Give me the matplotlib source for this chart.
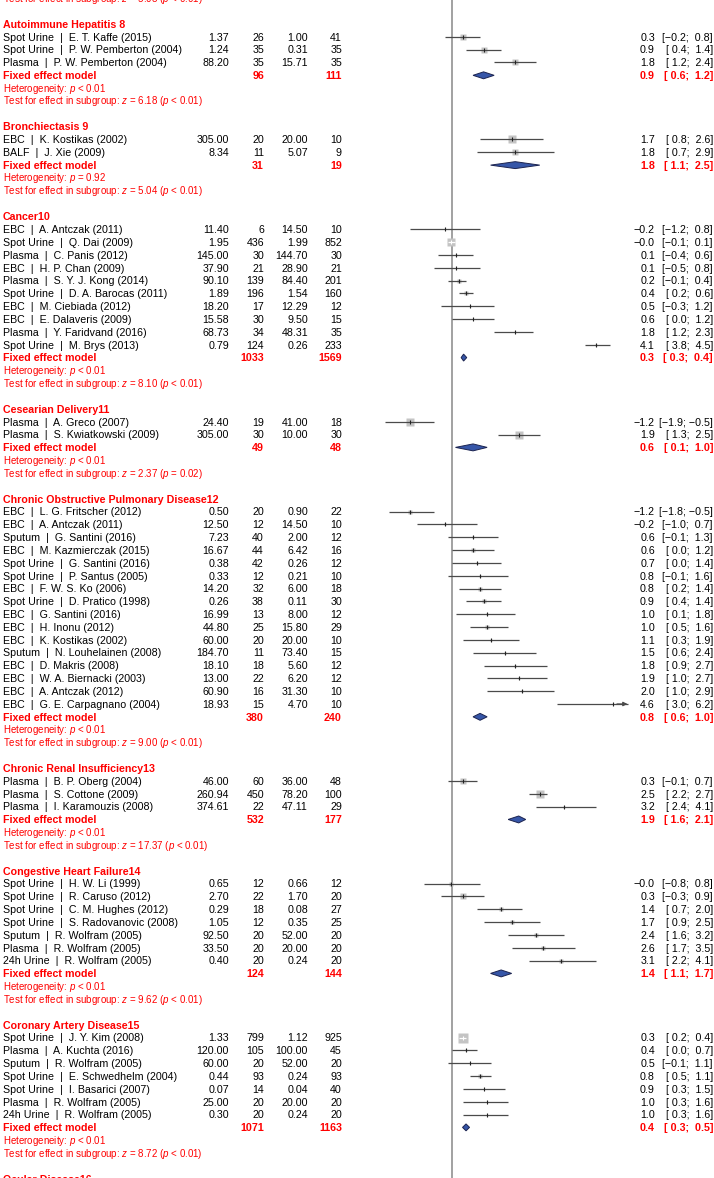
import numpy as np
import matplotlib
matplotlib.use("Agg")
import matplotlib.pyplot as plt
from matplotlib.transforms import blended_transform_factory
from matplotlib.patches import Polygon

plt.rcParams['font.family'] = ['Liberation Sans', 'DejaVu Sans']
plt.rcParams['mathtext.fontset'] = 'custom'
plt.rcParams['mathtext.it'] = 'Liberation Sans:italic'
plt.rcParams['mathtext.rm'] = 'Liberation Sans'

# ---------------- data ----------------
group_names = ["Autoimmune Hepatitis 8", "Bronchiectasis 9", "Cancer10",
               "Cesearian Delivery11", "Chronic Obstructive Pulmonary Disease12",
               "Chronic Renal Insufficiency13", "Congestive Heart Failure14",
               "Coronary Artery Disease15"]
next_group_name = "Ocular Disease16"
prev_group_z = "5.08"
prev_group_zp = "< 0.01"

study_group = [0]*3 + [1]*2 + [2]*10 + [3]*2 + [4]*16 + [5]*3 + [6]*7 + [7]*7
study_labels = [
    "Spot Urine  |  E. T. Kaffe (2015)", "Spot Urine  |  P. W. Pemberton (2004)", "Plasma  |  P. W. Pemberton (2004)",
    "EBC  |  K. Kostikas (2002)", "BALF  |  J. Xie (2009)",
    "EBC  |  A. Antczak (2011)", "Spot Urine  |  Q. Dai (2009)", "Plasma  |  C. Panis (2012)",
    "EBC  |  H. P. Chan (2009)", "Plasma  |  S. Y. J. Kong (2014)", "Spot Urine  |  D. A. Barocas (2011)",
    "EBC  |  M. Ciebiada (2012)", "EBC  |  E. Dalaveris (2009)", "Plasma  |  Y. Faridvand (2016)",
    "Spot Urine  |  M. Brys (2013)",
    "Plasma  |  A. Greco (2007)", "Plasma  |  S. Kwiatkowski (2009)",
    "EBC  |  L. G. Fritscher (2012)", "EBC  |  A. Antczak (2011)", "Sputum  |  G. Santini (2016)",
    "EBC  |  M. Kazmierczak (2015)", "Spot Urine  |  G. Santini (2016)", "Spot Urine  |  P. Santus (2005)",
    "EBC  |  F. W. S. Ko (2006)", "Spot Urine  |  D. Pratico (1998)", "EBC  |  G. Santini (2016)",
    "EBC  |  H. Inonu (2012)", "EBC  |  K. Kostikas (2002)", "Sputum  |  N. Louhelainen (2008)",
    "EBC  |  D. Makris (2008)", "EBC  |  W. A. Biernacki (2003)", "EBC  |  A. Antczak (2012)",
    "EBC  |  G. E. Carpagnano (2004)",
    "Plasma  |  B. P. Oberg (2004)", "Plasma  |  S. Cottone (2009)", "Plasma  |  I. Karamouzis (2008)",
    "Spot Urine  |  H. W. Li (1999)", "Spot Urine  |  R. Caruso (2012)", "Spot Urine  |  C. M. Hughes (2012)",
    "Spot Urine  |  S. Radovanovic (2008)", "Sputum  |  R. Wolfram (2005)", "Plasma  |  R. Wolfram (2005)",
    "24h Urine  |  R. Wolfram (2005)",
    "Spot Urine  |  J. Y. Kim (2008)", "Plasma  |  A. Kuchta (2016)", "Sputum  |  R. Wolfram (2005)",
    "Spot Urine  |  E. Schwedhelm (2004)", "Spot Urine  |  I. Basarici (2007)", "Plasma  |  R. Wolfram (2005)",
    "24h Urine  |  R. Wolfram (2005)",
]
mean_exp = [1.37, 1.24, 88.20,
            305.00, 8.34,
            11.40, 1.95, 145.00, 37.90, 90.10, 1.89, 18.20, 15.58, 68.73, 0.79,
            24.40, 305.00,
            0.50, 12.50, 7.23, 16.67, 0.38, 0.33, 14.20, 0.26, 16.99, 44.80, 60.00, 184.70, 18.10, 13.00, 60.90, 18.93,
            46.00, 260.94, 374.61,
            0.65, 2.70, 0.29, 1.05, 92.50, 33.50, 0.40,
            1.33, 120.00, 60.00, 0.44, 0.07, 25.00, 0.30]
n_exp = [26, 35, 35,
         20, 11,
         6, 436, 30, 21, 139, 196, 17, 30, 34, 124,
         19, 30,
         20, 12, 40, 44, 42, 12, 32, 38, 13, 25, 20, 11, 18, 22, 16, 15,
         60, 450, 22,
         12, 22, 18, 12, 20, 20, 20,
         799, 105, 20, 93, 14, 20, 20]
mean_ctl = [1.00, 0.31, 15.71,
            20.00, 5.07,
            14.50, 1.99, 144.70, 28.90, 84.40, 1.54, 12.29, 9.50, 48.31, 0.26,
            41.00, 10.00,
            0.90, 14.50, 2.00, 6.42, 0.26, 0.21, 6.00, 0.11, 8.00, 15.80, 20.00, 73.40, 5.60, 6.20, 31.30, 4.70,
            36.00, 78.20, 47.11,
            0.66, 1.70, 0.08, 0.35, 52.00, 20.00, 0.24,
            1.12, 100.00, 52.00, 0.24, 0.04, 20.00, 0.24]
n_ctl = [41, 35, 35,
         10, 9,
         10, 852, 30, 21, 201, 160, 12, 15, 35, 233,
         18, 30,
         22, 10, 12, 16, 12, 10, 18, 30, 12, 29, 10, 15, 12, 12, 10, 10,
         48, 100, 29,
         12, 20, 27, 25, 20, 20, 20,
         925, 45, 20, 93, 40, 20, 20]
smd = [0.3, 0.9, 1.8,
       1.7, 1.8,
       -0.2, -0.02, 0.1, 0.1, 0.2, 0.4, 0.5, 0.6, 1.8, 4.1,
       -1.2, 1.9,
       -1.2, -0.2, 0.6, 0.6, 0.7, 0.8, 0.8, 0.9, 1.0, 1.0, 1.1, 1.5, 1.8, 1.9, 2.0, 4.6,
       0.3, 2.5, 3.2,
       -0.02, 0.3, 1.4, 1.7, 2.4, 2.6, 3.1,
       0.3, 0.4, 0.5, 0.8, 0.9, 1.0, 1.0]
ci_low = [-0.2, 0.4, 1.2,
          0.8, 0.7,
          -1.2, -0.12, -0.4, -0.5, -0.1, 0.2, -0.3, 0.0, 1.2, 3.8,
          -1.9, 1.3,
          -1.8, -1.0, -0.1, 0.0, 0.0, -0.1, 0.2, 0.4, 0.1, 0.5, 0.3, 0.6, 0.9, 1.0, 1.0, 3.0,
          -0.1, 2.2, 2.4,
          -0.8, -0.3, 0.7, 0.9, 1.6, 1.7, 2.2,
          0.2, 0.0, -0.1, 0.5, 0.3, 0.3, 0.3]
ci_high = [0.8, 1.4, 2.4,
           2.6, 2.9,
           0.8, 0.09, 0.6, 0.8, 0.4, 0.6, 1.2, 1.2, 2.3, 4.5,
           -0.5, 2.5,
           -0.5, 0.7, 1.3, 1.2, 1.4, 1.6, 1.4, 1.4, 1.8, 1.6, 1.9, 2.4, 2.7, 2.7, 2.9, 6.2,
           0.7, 2.7, 4.1,
           0.8, 0.9, 2.0, 2.5, 3.2, 3.5, 4.1,
           0.4, 0.7, 1.1, 1.1, 1.5, 1.6, 1.6]
weight = [37, 37, 26,
          60, 40,
          0.6, 50, 2.4, 1.4, 12, 18, 1.1, 1.7, 2.0, 5.0,
          43, 57,
          7.8, 4.6, 6.7, 9.1, 6.7, 4.6, 9.1, 13.1, 4.6, 10.9, 5.1, 4.1, 4.1, 4.6, 3.7, 1.3,
          38, 58, 4,
          12.8, 22.7, 19.4, 12.8, 12.8, 10.2, 9.2,
          80, 6.3, 2.1, 8.6, 2.1, 1.8, 1.8]

group_n_exp = [96, 31, 1033, 49, 380, 532, 124, 1071]
group_n_ctl = [111, 19, 1569, 48, 240, 177, 144, 1163]
group_smd = [0.9, 1.8, 0.33, 0.6, 0.8, 1.9, 1.4, 0.4]
group_low = [0.6, 1.1, 0.26, 0.1, 0.6, 1.6, 1.1, 0.3]
group_high = [1.2, 2.5, 0.42, 1.0, 1.0, 2.1, 1.7, 0.5]
group_het = ["< 0.01", "= 0.92", "< 0.01", "< 0.01", "< 0.01", "< 0.01", "< 0.01", "< 0.01"]
group_z = ["6.18", "5.04", "8.10", "2.37", "9.00", "17.37", "9.62", "8.72"]
group_zp = ["< 0.01", "< 0.01", "< 0.01", "= 0.02", "< 0.01", "< 0.01", "< 0.01", "< 0.01"]

x_clip = 5.0   # upper limit of the effect axis

# ---------------- layout ----------------
W, H = 714, 1178
ROW0 = 24.0      # px of first row
ROWH = 12.83     # px per row
X0 = 452.0       # px of zero line
XU = 35.1        # px per SMD unit

fig = plt.figure(figsize=(W/100, H/100), dpi=100)
ax = fig.add_axes([0, 0, 1, 1])
ax.set_xlim(-X0/XU, (W - X0)/XU)
ax.set_ylim((H - ROW0)/ROWH, -ROW0/ROWH)
ax.axis('off')
tr = blended_transform_factory(ax.transAxes, ax.transData)

RED = '#FF0000'
FS = 7.7
FS_SMALL = 7.0

def fx(px):
    return px / W

def fmt(v):
    return f"{v:.1f}".replace('-', '\u2212')

def fmt4(v):
    s = fmt(v)
    return s if s.startswith('\u2212') else ' ' + s

def ci_str(lo, hi):
    return "[" + fmt4(lo) + "; " + fmt4(hi) + "]"

COL_LABEL = 3
COL_ME, COL_NE, COL_MC, COL_NC = 229, 264, 308, 342
COL_TE, COL_CI = 655, 713

ax.axvline(0, color='#9a9a9a', lw=1.3, zorder=1)

def txt(px, r, s, ha='right', color='black', weight='normal', size=FS):
    # baseline placed so that capital letters are centred on the row
    cap_px = 0.716 * size * 100 / 72
    ax.text(fx(px), r + 0.5 * cap_px / ROWH, s, transform=tr, ha=ha, va='baseline',
            color=color, fontweight=weight, fontsize=size)

def het_lines(r, het, z, zp):
    txt(COL_LABEL, r, "Heterogeneity: $p$ " + het, ha='left', color=RED, size=FS_SMALL)
    txt(COL_LABEL, r + 1, "Test for effect in subgroup: $z$ = " + z + " ($p$ " + zp + ")",
        ha='left', color=RED, size=FS_SMALL)

# partial line from previous subgroup
txt(COL_LABEL, -2, "Test for effect in subgroup: $z$ = " + prev_group_z + " ($p$ " + prev_group_zp + ")",
    ha='left', color=RED, size=FS_SMALL)

r = 0
for g, gname in enumerate(group_names):
    txt(COL_LABEL, r, gname, ha='left', color=RED, weight='bold')
    r += 1
    members = [i for i, sg in enumerate(study_group) if sg == g]
    for i in members:
        txt(COL_LABEL, r, study_labels[i], ha='left')
        txt(COL_ME, r, f"{mean_exp[i]:.2f}")
        txt(COL_NE, r, f"{n_exp[i]}")
        txt(COL_MC, r, f"{mean_ctl[i]:.2f}")
        txt(COL_NC, r, f"{n_ctl[i]}")
        txt(COL_TE, r, fmt(smd[i]))
        txt(COL_CI, r, ci_str(ci_low[i], ci_high[i]))
        side_px = max(1.1 * np.sqrt(weight[i]), 1.5)
        ax.plot(smd[i], r, marker='s', ms=side_px * 0.72, color='#c4c4c4', mec='none', zorder=2)
        inside = (ci_high[i] - ci_low[i]) * XU < side_px
        lc = 'white' if inside else '#4a4a4a'
        hi = min(ci_high[i], x_clip)
        ax.plot([ci_low[i], hi], [r, r], color=lc, lw=0.9, zorder=3, solid_capstyle='butt')
        if ci_high[i] > x_clip:
            ax.annotate("", xy=(x_clip, r), xytext=(hi - 0.3, r),
                        arrowprops=dict(arrowstyle='-|>', color='#4a4a4a', lw=0.9,
                                        mutation_scale=6, shrinkA=0, shrinkB=0), zorder=3)
        ax.plot(smd[i], r, marker='|', ms=3.2, color='white' if inside else '#222222',
                mew=0.8, zorder=4)
        r += 1
    # fixed effect model
    txt(COL_LABEL, r, "Fixed effect model", ha='left', color=RED, weight='bold')
    txt(COL_NE, r, f"{group_n_exp[g]}", color=RED, weight='bold')
    txt(COL_NC, r, f"{group_n_ctl[g]}", color=RED, weight='bold')
    txt(COL_TE, r, fmt(group_smd[g]), color=RED, weight='bold')
    txt(COL_CI, r, ci_str(group_low[g], group_high[g]), color=RED, weight='bold')
    h = 0.27
    poly = Polygon([(group_low[g], r), (group_smd[g], r - h), (group_high[g], r), (group_smd[g], r + h)],
                   closed=True, facecolor='#3656a8', edgecolor='#1c2450', lw=0.7, zorder=4)
    ax.add_patch(poly)
    r += 1
    het_lines(r, group_het[g], group_z[g], group_zp[g])
    r += 3

txt(COL_LABEL, r, next_group_name, ha='left', color=RED, weight='bold')

fig.savefig("out.png", dpi=100)
